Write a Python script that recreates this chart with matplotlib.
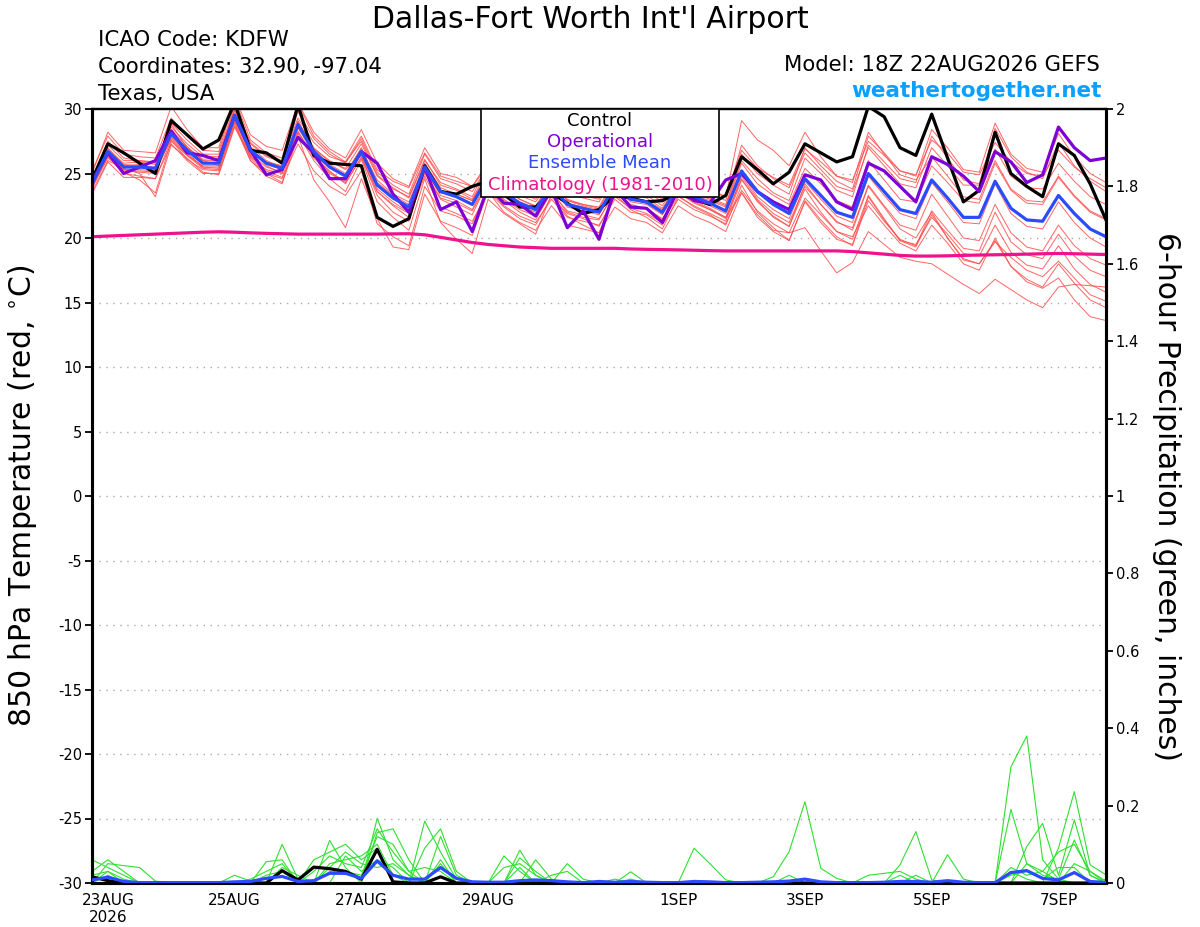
import matplotlib
matplotlib.use('Agg')
import matplotlib.pyplot as plt
import matplotlib.patches as mpatches
import numpy as np
import pandas as pd

plt.rcParams['font.family'] = ['DejaVu Sans']

# ---------------- DATA ----------------
times = pd.date_range('2026-08-22 18:00', periods=65, freq='6h')

tick_dates = ['2026-08-23', '2026-08-25', '2026-08-27', '2026-08-29',
              '2026-09-01', '2026-09-03', '2026-09-05', '2026-09-07']
tick_labels = ['23AUG\n2026', '25AUG', '27AUG', '29AUG', '1SEP', '3SEP', '5SEP', '7SEP']

temp_ticks = list(range(-30, 31, 5))
precip_ticks = [0, 0.2, 0.4, 0.6, 0.8, 1, 1.2, 1.4, 1.6, 1.8, 2]

control_t = [24.5, 27.3, 26.6, 25.8, 25.0, 29.1, 28.0, 26.9, 27.6, 30.5, 26.8, 26.6, 25.8,
             30.3, 26.4, 25.8, 25.7, 25.6, 21.6, 20.9, 21.5, 25.6, 23.6, 23.4, 24.0,
             24.4, 23.4, 22.4, 22.4, 23.5, 22.7, 21.9, 22.2, 23.3, 23.1, 22.8, 22.9, 23.5, 23.0, 22.6, 23.3,
             26.3, 25.3, 24.2, 25.1, 27.3, 26.6, 25.9, 26.3, 30.2, 29.4, 27.0, 26.4,
             29.6, 26.2, 22.8, 23.7, 28.2, 25.0, 24.0, 23.2, 27.3, 26.4, 24.2, 21.4]

operational_t = [24.4, 26.6, 25.0, 25.5, 26.0, 28.3, 26.6, 26.4, 26.0, 29.5, 26.8, 24.9, 25.3,
                 27.8, 26.6, 24.6, 24.6, 26.7, 25.8, 23.4, 22.0, 25.5, 22.2, 22.8, 20.5,
                 24.0, 22.7, 22.6, 21.7, 23.8, 20.8, 22.1, 19.9, 23.8, 22.4, 22.3, 21.2, 23.8, 22.9, 22.7, 24.5,
                 25.0, 23.6, 22.8, 22.2, 24.9, 24.5, 22.8, 22.2, 25.8, 25.2, 24.0, 22.8,
                 26.3, 25.7, 24.8, 23.6, 26.7, 25.9, 24.3, 24.9, 28.6, 27.0, 26.0, 26.2]

mean_t = [24.2, 26.7, 25.5, 25.5, 25.4, 28.1, 26.8, 25.8, 25.8, 29.5, 26.8, 25.8, 25.4,
          28.8, 26.7, 25.5, 24.8, 26.7, 24.1, 23.1, 22.4, 25.5, 23.6, 23.2, 22.6,
          24.8, 23.5, 22.7, 22.2, 24.0, 22.6, 22.3, 22.0, 24.0, 23.0, 22.8, 22.0, 24.0, 23.2, 22.7, 22.1,
          25.2, 23.6, 22.6, 21.9, 24.6, 23.3, 22.0, 21.6, 25.0, 23.6, 22.2, 21.9,
          24.5, 23.1, 21.6, 21.6, 24.4, 22.3, 21.4, 21.3, 23.3, 21.9, 20.7, 20.1]

climo_t = [20.10, 20.15, 20.20, 20.25, 20.30, 20.35, 20.40, 20.45, 20.48, 20.45, 20.40, 20.36, 20.33,
           20.30, 20.30, 20.30, 20.30, 20.30, 20.30, 20.32, 20.33, 20.25, 20.05, 19.85, 19.65,
           19.50, 19.40, 19.30, 19.25, 19.20, 19.20, 19.20, 19.20, 19.20, 19.15, 19.12, 19.10, 19.08, 19.05, 19.02, 19.00,
           19.00, 19.00, 19.00, 19.00, 19.00, 19.00, 19.00, 18.95, 18.85, 18.75, 18.65, 18.60,
           18.60, 18.62, 18.65, 18.68, 18.70, 18.72, 18.75, 18.78, 18.80, 18.78, 18.75, 18.72]

member_01 = [24.7, 27.2, 26.0, 26.0, 25.9, 28.6, 27.3, 26.3, 26.3, 30.0, 27.3, 26.3, 25.9,
             29.8, 27.7, 26.5, 25.8, 27.7, 25.1, 24.1, 23.4, 26.5, 24.6, 24.2, 23.6,
             25.6, 24.3, 23.5, 23.0, 24.8, 23.4, 23.1, 22.8, 24.8, 23.8, 23.6, 22.8, 24.8, 24.0, 23.5, 22.9,
             27.2, 25.6, 24.6, 23.9, 26.6, 25.3, 24.0, 23.6, 27.0, 25.6, 24.2, 23.9,
             27.0, 25.6, 24.1, 24.1, 26.9, 24.8, 23.9, 23.8, 25.8, 24.4, 23.2, 22.6]
member_02 = [23.4, 25.9, 24.7, 24.7, 24.6, 27.3, 26.0, 25.0, 25.0, 28.7, 26.0, 25.0, 24.6,
             27.3, 25.2, 24.0, 23.3, 25.2, 21.1, 20.1, 19.4, 24.0, 22.1, 21.7, 21.1,
             23.8, 22.5, 21.7, 21.2, 23.0, 21.6, 21.3, 21.0, 23.0, 22.0, 21.8, 21.0, 23.0, 22.2, 21.7, 21.1,
             23.7, 22.1, 21.1, 20.4, 23.1, 21.8, 20.5, 20.1, 22.5, 21.0, 19.6, 19.0,
             21.0, 19.6, 18.0, 17.5, 20.0, 17.8, 16.8, 16.2, 18.0, 16.5, 15.2, 14.6]
member_03 = [23.9, 26.4, 25.2, 25.2, 25.1, 27.8, 26.5, 25.5, 25.5, 29.2, 26.5, 25.5, 25.1,
             28.3, 26.2, 25.0, 24.3, 26.2, 23.6, 22.6, 21.9, 25.0, 23.1, 22.7, 22.1,
             24.3, 23.0, 22.2, 21.7, 23.5, 22.1, 21.8, 21.5, 23.5, 22.5, 22.3, 21.5, 23.5, 22.7, 22.2, 21.6,
             23.5, 21.8, 20.6, 20.4, 20.8, 19.0, 17.3, 18.1, 20.5, 19.5, 18.5, 18.2,
             18.0, 17.2, 16.4, 15.7, 16.8, 16.0, 15.2, 14.6, 16.2, 16.4, 16.3, 16.2]
member_04 = [25.2, 27.9, 26.5, 26.3, 26.2, 29.3, 27.9, 26.8, 26.7, 30.8, 27.6, 26.6, 26.2,
             30.5, 28.2, 26.9, 26.2, 28.4, 25.8, 24.6, 24.0, 27.0, 25.0, 24.7, 24.0,
             25.9, 24.6, 23.7, 23.2, 25.1, 23.6, 23.3, 23.0, 25.0, 24.0, 23.8, 23.0, 25.1, 24.3, 23.8, 23.2,
             29.1, 27.6, 26.8, 25.6, 28.2, 26.3, 24.8, 24.3, 28.2, 26.5, 24.9, 24.5,
             26.3, 24.8, 23.2, 23.0, 26.0, 23.8, 22.9, 22.8, 24.8, 23.3, 22.1, 21.5]
member_05 = [24.0, 26.3, 25.0, 24.8, 24.6, 27.6, 26.1, 25.3, 25.2, 28.9, 26.0, 24.8, 24.2,
             27.9, 24.5, 22.8, 20.8, 24.6, 21.5, 19.3, 19.1, 23.4, 21.3, 20.8, 20.2,
             23.6, 22.4, 21.5, 21.0, 23.2, 21.9, 21.5, 20.9, 23.2, 22.3, 21.9, 21.2, 23.3, 22.4, 21.8, 21.0,
             24.1, 22.0, 20.8, 19.8, 22.9, 21.4, 20.1, 19.4, 22.9, 21.3, 19.9, 19.4,
             22.1, 20.6, 19.2, 19.0, 22.0, 19.7, 18.7, 18.4, 20.3, 18.6, 17.5, 17.0]
member_06 = [25.0, 28.2, 26.8, 26.7, 26.6, 30.2, 28.4, 27.0, 27.0, 31.0, 28.0, 27.1, 26.8,
             30.4, 27.9, 26.7, 25.9, 27.5, 24.9, 23.9, 23.1, 26.0, 24.3, 23.8, 23.2,
             25.8, 24.2, 23.3, 22.8, 24.5, 23.0, 22.6, 22.4, 24.6, 23.4, 23.1, 22.3, 24.3, 23.5, 23.0, 22.5,
             26.5, 25.0, 24.1, 23.4, 27.0, 25.6, 24.4, 23.8, 27.9, 26.6, 25.2, 24.8,
             28.4, 27.0, 25.3, 25.1, 28.9, 26.5, 25.4, 25.1, 28.1, 26.3, 25.0, 24.3]
member_07 = [23.6, 26.0, 25.4, 25.0, 23.2, 27.2, 26.2, 25.1, 24.9, 28.6, 26.4, 25.2, 24.7,
             28.1, 26.0, 24.6, 23.6, 26.1, 22.8, 21.6, 20.6, 24.6, 21.2, 19.9, 18.8,
             23.0, 21.9, 21.1, 20.3, 23.4, 21.7, 21.0, 20.4, 23.4, 22.2, 21.6, 20.7, 23.2, 22.5, 21.9, 21.3,
             24.5, 22.9, 21.6, 20.9, 24.2, 22.6, 21.3, 20.6, 24.0, 22.4, 20.7, 20.0,
             22.0, 20.0, 18.3, 18.0, 19.7, 18.5, 17.5, 17.0, 18.2, 16.9, 15.6, 15.1]
member_08 = [24.3, 26.9, 25.8, 25.9, 25.7, 28.4, 27.1, 26.0, 25.6, 29.9, 27.0, 25.7, 25.3,
             28.9, 26.5, 25.4, 24.9, 26.9, 24.5, 23.4, 22.8, 25.7, 23.7, 23.4, 22.9,
             25.0, 23.8, 23.0, 22.4, 24.3, 22.9, 22.5, 22.2, 24.2, 23.1, 22.9, 22.2, 24.2, 23.3, 22.9, 22.4,
             25.8, 24.2, 23.3, 22.6, 25.4, 24.2, 22.9, 22.4, 26.0, 24.5, 23.0, 22.8,
             25.6, 24.3, 22.9, 22.7, 25.8, 23.7, 22.7, 22.6, 24.7, 23.2, 22.0, 21.4]
member_09 = [23.8, 26.5, 25.1, 24.5, 23.5, 27.5, 26.4, 25.4, 25.3, 29.0, 26.2, 25.0, 24.3,
             28.2, 26.3, 25.2, 24.2, 26.3, 23.3, 22.0, 21.3, 25.1, 23.0, 22.4, 21.8,
             24.4, 22.9, 22.0, 21.4, 23.6, 22.0, 21.6, 21.4, 23.7, 22.6, 22.3, 21.4, 23.6, 22.8, 22.2, 21.5,
             24.8, 23.0, 21.9, 21.2, 24.0, 22.6, 21.2, 20.8, 24.1, 22.5, 21.0, 20.6,
             23.4, 21.7, 20.0, 19.8, 22.6, 20.4, 19.3, 19.0, 21.0, 19.4, 18.4, 17.9]
member_10 = [24.6, 27.5, 26.2, 26.0, 25.8, 28.9, 27.6, 26.5, 26.5, 30.3, 27.4, 26.4, 26.0,
             29.3, 27.4, 26.3, 25.9, 27.9, 25.3, 24.4, 23.9, 26.6, 24.8, 24.4, 24.0,
             25.6, 24.4, 23.8, 23.4, 24.6, 23.6, 23.4, 23.1, 24.4, 23.7, 23.6, 23.2, 24.5, 24.0, 23.6, 23.2,
             26.8, 25.4, 24.7, 24.1, 26.9, 25.9, 24.8, 24.5, 27.5, 26.4, 25.2, 24.9,
             27.6, 26.6, 25.1, 24.9, 27.4, 25.9, 25.0, 24.8, 26.8, 25.5, 24.6, 23.9]
member_11 = [24.1, 26.6, 25.3, 25.3, 25.2, 27.7, 26.4, 25.6, 25.6, 29.1, 26.7, 25.9, 25.6,
             28.5, 26.9, 26.0, 25.3, 26.4, 23.6, 22.5, 21.6, 24.8, 22.4, 21.9, 21.3,
             23.6, 22.0, 21.2, 20.6, 22.5, 21.0, 20.7, 20.4, 22.4, 21.5, 21.2, 20.4, 22.5, 21.7, 21.2, 20.5,
             23.5, 21.6, 20.5, 19.8, 22.8, 21.2, 19.9, 19.5, 23.2, 21.4, 19.8, 19.5,
             21.6, 20.3, 18.8, 18.6, 21.0, 18.9, 17.9, 17.6, 19.4, 17.6, 16.4, 15.8]
member_12 = [24.4, 27.0, 25.6, 25.7, 25.9, 28.8, 27.0, 26.1, 26.2, 30.1, 26.9, 25.6, 25.0,
             29.0, 27.0, 25.9, 25.4, 27.3, 24.8, 23.8, 23.2, 26.1, 24.1, 23.7, 23.0,
             25.3, 23.9, 23.0, 22.5, 24.4, 22.9, 22.6, 22.3, 24.5, 23.4, 23.3, 22.5, 24.6, 23.7, 23.1, 22.6,
             26.0, 24.6, 23.5, 22.9, 26.2, 25.0, 23.7, 23.2, 27.2, 25.9, 24.6, 24.3,
             27.9, 26.2, 24.5, 24.2, 28.5, 26.3, 25.1, 24.6, 27.4, 25.6, 24.4, 23.6]
member_13 = [23.9, 26.2, 25.3, 25.1, 25.0, 27.9, 26.6, 25.5, 25.4, 29.4, 26.3, 25.3, 25.0,
             28.6, 26.4, 25.1, 24.4, 26.6, 23.8, 22.8, 22.0, 25.3, 23.3, 22.9, 22.2,
             24.6, 23.2, 22.5, 22.0, 23.9, 22.4, 22.1, 21.8, 23.9, 22.8, 22.6, 21.8, 23.9, 23.0, 22.5, 21.9,
             25.0, 23.2, 22.2, 21.5, 24.4, 23.0, 21.7, 21.2, 24.8, 23.3, 21.9, 21.5,
             24.3, 22.8, 21.2, 21.1, 24.2, 21.9, 20.9, 20.7, 22.8, 21.2, 20.0, 19.3]
member_14 = [24.5, 26.8, 25.7, 25.6, 25.5, 28.2, 27.0, 26.0, 26.0, 29.7, 27.1, 26.0, 25.5,
             29.1, 26.9, 25.7, 25.0, 27.0, 24.3, 23.3, 22.6, 25.8, 23.9, 23.4, 22.9,
             24.9, 23.6, 22.8, 22.3, 24.1, 22.7, 22.4, 22.1, 24.1, 23.0, 22.7, 21.9, 23.8, 22.9, 22.3, 21.6,
             24.6, 22.8, 21.7, 20.9, 23.8, 22.0, 20.5, 19.9, 23.3, 21.5, 19.8, 19.3,
             21.8, 20.0, 18.4, 18.0, 19.8, 17.8, 16.6, 16.1, 16.9, 15.2, 13.9, 13.6]

members_t = [member_01, member_02, member_03, member_04, member_05, member_06, member_07,
             member_08, member_09, member_10, member_11, member_12, member_13, member_14]

# 6-hour precipitation (inches): non-zero entries by time step
control_p = {0: 0.016, 1: 0.006, 12: 0.032, 13: 0.008, 14: 0.041, 15: 0.037, 16: 0.030,
             17: 0.010, 18: 0.087, 19: 0.003, 22: 0.016}
mean_p = [0.008, 0.015, 0.004, 0.001, 0.0, 0.0, 0.0, 0.0, 0.001, 0.003, 0.004, 0.012, 0.017,
          0.004, 0.006, 0.025, 0.025, 0.012, 0.057, 0.020, 0.010, 0.010, 0.040, 0.012, 0.003,
          0.002, 0.002, 0.006, 0.008, 0.006, 0.003, 0.001, 0.004, 0.002, 0.004, 0.002, 0.001,
          0.001, 0.004, 0.003, 0.001, 0.001, 0.002, 0.003, 0.005, 0.010, 0.003, 0.001, 0.001,
          0.001, 0.002, 0.004, 0.004, 0.002, 0.006, 0.002, 0.001, 0.001, 0.027, 0.032, 0.012,
          0.008, 0.027, 0.004, 0.001]
pmember_1 = {0: 0.06, 1: 0.04, 2: 0.02, 12: 0.10, 13: 0.01, 18: 0.167, 19: 0.06, 20: 0.02,
             27: 0.085, 28: 0.02, 43: 0.016, 44: 0.081, 45: 0.21, 46: 0.038, 47: 0.012,
             58: 0.30, 59: 0.38, 60: 0.06, 61: 0.01}
pmember_2 = {1: 0.05, 2: 0.045, 3: 0.04, 4: 0.005, 11: 0.055, 12: 0.06, 15: 0.11, 16: 0.04,
             18: 0.13, 19: 0.14, 20: 0.06, 26: 0.07, 27: 0.03, 38: 0.09, 39: 0.05, 40: 0.008,
             51: 0.047, 52: 0.133, 53: 0.008, 61: 0.09, 62: 0.236, 63: 0.047, 64: 0.021}
pmember_3 = {0: 0.03, 1: 0.06, 2: 0.03, 14: 0.06, 15: 0.08, 16: 0.10, 17: 0.06, 18: 0.09,
             21: 0.16, 22: 0.08, 23: 0.01, 28: 0.06, 29: 0.01, 34: 0.029, 54: 0.073, 55: 0.01,
             58: 0.19, 59: 0.05, 60: 0.03, 61: 0.08, 62: 0.10, 63: 0.03}
pmember_4 = {1: 0.03, 10: 0.01, 11: 0.03, 12: 0.05, 16: 0.07, 17: 0.03, 18: 0.06, 19: 0.04,
             21: 0.09, 22: 0.14, 23: 0.03, 30: 0.05, 31: 0.01, 59: 0.094, 60: 0.154, 61: 0.02,
             62: 0.163, 63: 0.02}
pmember_5 = {9: 0.02, 10: 0.005, 12: 0.04, 13: 0.02, 15: 0.05, 16: 0.06, 17: 0.07, 18: 0.10,
             19: 0.02, 22: 0.12, 23: 0.02, 27: 0.065, 28: 0.03, 49: 0.02, 50: 0.025, 51: 0.03,
             52: 0.01, 59: 0.05, 60: 0.02, 61: 0.01, 62: 0.111, 63: 0.02}
pmember_6 = {0: 0.02, 1: 0.03, 2: 0.01, 14: 0.03, 15: 0.07, 16: 0.05, 17: 0.04, 18: 0.14,
             19: 0.08, 20: 0.03, 22: 0.06, 29: 0.02, 30: 0.03, 58: 0.02, 59: 0.03, 60: 0.01,
             61: 0.04, 62: 0.04, 64: 0.01}
pmember_7 = {12: 0.03, 13: 0.005, 15: 0.04, 16: 0.08, 17: 0.05, 18: 0.04, 19: 0.05, 20: 0.02,
             22: 0.05, 27: 0.04, 34: 0.01, 44: 0.02, 51: 0.02, 58: 0.04, 59: 0.02, 60: 0.03,
             61: 0.005}
pmember_8 = {1: 0.02, 11: 0.02, 12: 0.03, 15: 0.03, 16: 0.03, 17: 0.02, 18: 0.12, 19: 0.10,
             20: 0.03, 21: 0.04, 22: 0.03, 26: 0.04, 27: 0.05, 28: 0.02, 33: 0.01, 52: 0.02,
             58: 0.03, 59: 0.01, 62: 0.05, 63: 0.03, 64: 0.005}
members_p = [pmember_1, pmember_2, pmember_3, pmember_4, pmember_5, pmember_6, pmember_7, pmember_8]

title = "Dallas-Fort Worth Int'l Airport"
info_lines = ['ICAO Code: KDFW', 'Coordinates: 32.90, -97.04', 'Texas, USA']
model_text = 'Model: 18Z 22AUG2026 GEFS'
site_text = 'weathertogether.net'
legend_items = [('Control', 'black'), ('Operational', '#7f00d6'),
                ('Ensemble Mean', '#2b4bff'), ('Climatology (1981-2010)', '#f0128c')]

# ---------------- STYLE ----------------
C_RED = '#ff4a4a'
C_GREEN = '#2ee02e'
C_BLACK = 'black'
C_PURPLE = '#7f00d6'
C_BLUE = '#2b4bff'
C_MAGENTA = '#f0128c'
N = len(times)


def expand(sparse):
    arr = np.zeros(N)
    for k, v in sparse.items():
        arr[k] = v
    return arr


W, H = 1200, 927
fig = plt.figure(figsize=(W / 100, H / 100), dpi=100)
L, R, T, B = 92, 1106, 109, 883
ax = fig.add_axes([L / W, 1 - B / H, (R - L) / W, (B - T) / H])
ax2 = ax.twinx()

# temperature
for m in members_t:
    ax.plot(times, m, color=C_RED, lw=0.7, alpha=0.85, zorder=2)
ax.plot(times, climo_t, color=C_MAGENTA, lw=2.3, zorder=3)
ax.plot(times, control_t, color=C_BLACK, lw=2.3, zorder=4)
ax.plot(times, operational_t, color=C_PURPLE, lw=2.3, zorder=5)
ax.plot(times, mean_t, color=C_BLUE, lw=2.3, zorder=6)

# precipitation
for m in members_p:
    ax2.plot(times, expand(m), color=C_GREEN, lw=0.8, zorder=2, clip_on=True)
ax2.plot(times, expand(control_p), color=C_BLACK, lw=2.3, zorder=3)
ax2.plot(times, mean_p, color=C_BLUE, lw=2.3, zorder=4)

ax.set_xlim(times[0], times[-1])
ax.set_ylim(-30, 30)
ax2.set_ylim(0, 2)

ax.set_yticks(temp_ticks)
ax.set_yticklabels([str(v) for v in temp_ticks])
ax2.set_yticks(precip_ticks)
ax2.set_yticklabels([f'{v:g}' for v in precip_ticks])
ax.set_xticks(pd.to_datetime(tick_dates))
ax.set_xticklabels(tick_labels, ha='center')

for v in temp_ticks[1:-1]:
    ax.axhline(v, color='#aaaaaa', lw=1.0, ls=(0, (1, 4)), zorder=1)

ax.tick_params(axis='y', direction='out', length=5, width=1.3, labelsize=10.5, pad=2)
ax2.tick_params(axis='y', direction='out', length=5, width=1.3, labelsize=10.5, pad=2)
ax.tick_params(axis='x', length=0, labelsize=11, pad=7)

for a in (ax, ax2):
    for s in ('left', 'right', 'bottom'):
        a.spines[s].set_linewidth(2.2)
    a.spines['top'].set_linewidth(1.6)

ax.set_ylabel('850 hPa Temperature (red, $^{\\circ}$C)', fontsize=21.5, labelpad=14)
ax2.set_ylabel('6-hour Precipitation (green, inches)', fontsize=21.5, rotation=270, labelpad=30)

# legend box
x0 = (481 - L) / (R - L)
x1 = (719 - L) / (R - L)
y0 = (B - 197) / (B - T)
ax2.add_patch(mpatches.Rectangle((x0, y0), x1 - x0, 1 - y0, transform=ax2.transAxes,
                                 facecolor='white', edgecolor='black', lw=1.2, zorder=20,
                                 clip_on=False))
xc = (600 - L) / (R - L)
for (txt, col), ypx in zip(legend_items, [121, 142, 163, 185]):
    ax2.text(xc, (B - ypx) / (B - T), txt, color=col, fontsize=13, ha='center', va='center',
             transform=ax2.transAxes, zorder=21)

# header texts
fig.text(590 / W, 1 - 28 / H, title, fontsize=21.5, ha='center', va='baseline')
for txt, yb in zip(info_lines, [46, 73, 100]):
    fig.text(98 / W, 1 - yb / H, txt, fontsize=15.3, ha='left', va='baseline')
fig.text(1100 / W, 1 - 71 / H, model_text, fontsize=15.3, ha='right', va='baseline')
fig.text(1102 / W, 1 - 97 / H, site_text, fontsize=15.5, fontweight='bold', color='#0aa0ff',
         ha='right', va='baseline')

fig.savefig('out.png', dpi=100)
